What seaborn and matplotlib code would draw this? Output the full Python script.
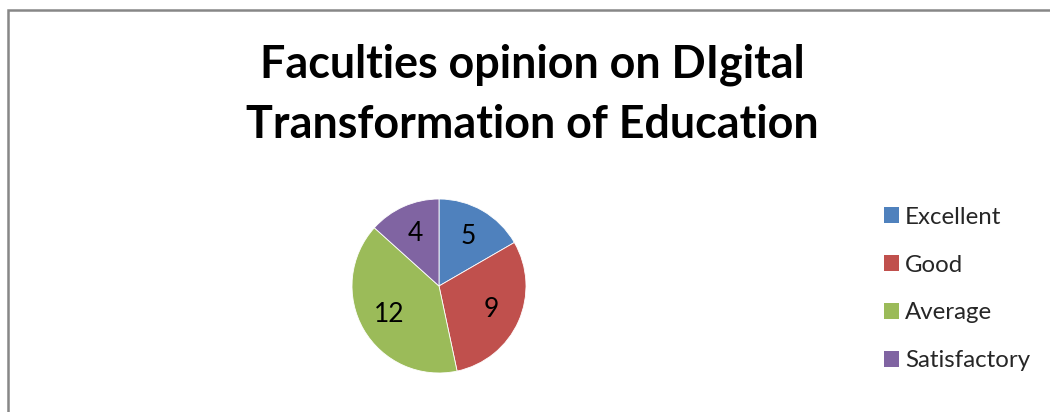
import matplotlib
matplotlib.use("Agg")
import matplotlib.pyplot as plt
import seaborn as sns
from matplotlib.patches import Rectangle, Patch

categories = ["Excellent", "Good", "Average", "Satisfactory"]
values = [5, 9, 12, 4]
colors = ["#4F81BD", "#C0504D", "#9BBB59", "#8064A2"]
title = "Faculties opinion on DIgital\nTransformation of Education"

sns.set_theme(style="white")
plt.rcParams['font.family'] = ['Lato', 'DejaVu Sans']

W, H = 1050, 412
fig = plt.figure(figsize=(W / 100, H / 100), dpi=100)
fig.patch.set_facecolor("white")

# outer border (left and top visible)
fig.add_artist(Rectangle((8 / W, -0.1), 1.2, (H - 10) / H + 0.1, transform=fig.transFigure,
                         fill=False, edgecolor="#878787", linewidth=1.8))

cx, cy, r = 439, 286, 87
ax = fig.add_axes([(cx - r) / W, (H - cy - r) / H, 2 * r / W, 2 * r / H])
wedges, texts, autotexts = ax.pie(
    values, colors=colors, startangle=90, counterclock=False,
    autopct=lambda p: f"{round(p * sum(values) / 100):d}", pctdistance=0.66,
    wedgeprops=dict(edgecolor="white", linewidth=0.6),
    textprops=dict(fontsize=19, color="black"))
ax.set_xlim(-1, 1)
ax.set_ylim(-1, 1)
ax.axis("off")

fig.text(532 / W, 1 - 94.5 / H, title, ha="center", va="center", fontsize=32.3,
         fontweight="bold", linespacing=1.54, color="black")

handles = [Patch(facecolor=c, edgecolor="none") for c in colors]
fig.legend(handles, categories, loc="upper left", bbox_to_anchor=(874 / W, 1 - 197 / H),
           frameon=False, fontsize=17.3, handlelength=0.62, handleheight=0.62,
           handletextpad=0.28, labelspacing=1.12, borderaxespad=0)

fig.savefig("out.png", dpi=100)
